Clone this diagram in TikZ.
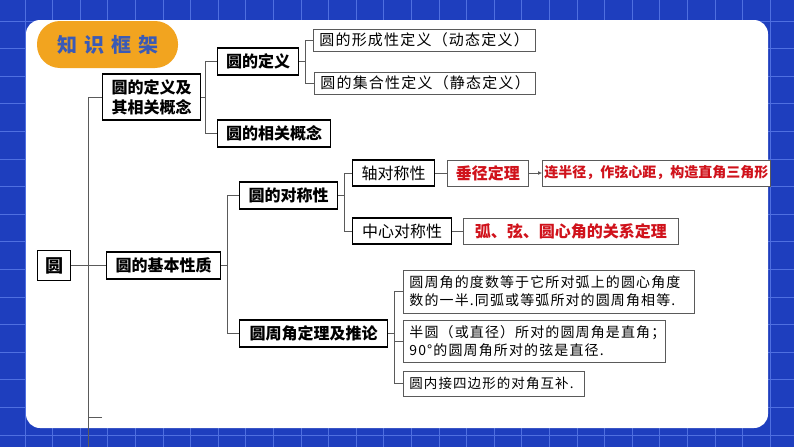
\documentclass[tikz,border=0pt]{standalone}
\usepackage{fontspec}
\setmainfont{Noto Sans CJK SC}
\newfontfamily\kaiwide[LetterSpace=8]{Noto Sans CJK SC}
\usetikzlibrary{arrows.meta,positioning}

\definecolor{bgblue}{HTML}{1E3EBE}
\definecolor{gridblue}{HTML}{4F6FE0}
\definecolor{pillorange}{HTML}{F2A41F}
\definecolor{titleblue}{HTML}{3A5AB6}
\definecolor{thmred}{HTML}{D0121B}
\definecolor{linegray}{HTML}{5A5A5A}

\tikzset{
  mainbox/.style={draw=black, line width=1.1pt, fill=white, anchor=west,
    inner sep=0pt, minimum height=27pt, align=center,
    font=\bfseries\fontsize{16}{20}\selectfont},
  leafbox/.style={draw=linegray, line width=0.8pt, fill=white, anchor=west,
    inner xsep=6pt, inner ysep=0pt, minimum height=22pt, align=left,
    font=\kaiwide\fontsize{15}{18}\selectfont},
  redbox/.style={leafbox, text=thmred, align=center, inner xsep=0pt,
    minimum height=26pt, font=\bfseries\fontsize{16}{18}\selectfont},
  conn/.style={draw=linegray, line width=0.8pt},
  gridline/.style={draw=gridblue, line width=0.7pt},
}

\begin{document}
\begin{tikzpicture}[x=1pt, y=-1pt]
\useasboundingbox (0,0) rectangle (794,447);

% draw background and grid
\fill[bgblue] (0,0) rectangle (794,447);
\foreach \i in {0,...,29}
  \draw[gridline] ({-2.6+27.6*\i},0) -- ++(0,447);
\foreach \j in {0,...,16}
  \draw[gridline] (0,{-6.6+27.6*\j}) -- ++(794,0);

% draw white panel
\fill[white, rounded corners=14pt] (26,20) rectangle (768,428);

% draw title
\node[fill=pillorange, rounded corners=23pt, minimum width=141pt,
  minimum height=47pt, inner sep=0pt, text=titleblue,
  font=\bfseries\fontsize{20}{22}\selectfont] (title) at (107.5,44.5)
  {知\hspace{7pt}识\hspace{7pt}框\hspace{7pt}架};

% draw nodes of the first level
\node[mainbox, minimum width=33pt, minimum height=30pt,
  font=\bfseries\fontsize{18}{20}\selectfont] (root) at (37,265.5) {圆};
\node[mainbox, minimum width=98pt, minimum height=46pt] (defc) at (102,97)
  {圆的定义及\\其相关概念};
\node[mainbox, minimum width=114pt] (basic) at (106,265.5) {圆的基本性质};

% draw nodes of the second level
\node[mainbox, minimum width=81pt] (def) at (217,61.5) {圆的定义};
\node[mainbox, minimum width=113pt] (concept) at (217,133.5) {圆的相关概念};
\node[mainbox, minimum width=98pt] (sym) at (239,195.5) {圆的对称性};
\node[mainbox, minimum width=148pt] (inscr) at (239,333.5) {圆周角定理及推论};

% draw nodes of the third level
\node[leafbox, text width=210pt] (dyn) at (313,40) {圆的形成性定义（动态定义）};
\node[leafbox, text width=209pt] (stat) at (314,83) {圆的集合性定义（静态定义）};
\node[mainbox, minimum width=82pt, minimum height=26pt,
  font=\fontsize{16}{20}\selectfont] (axis) at (352,173) {轴对称性};
\node[mainbox, minimum width=99pt, minimum height=26pt,
  font=\fontsize{16}{20}\selectfont] (central) at (352,231) {中心对称性};
\node[leafbox, text width=279pt, minimum height=43pt,
  font=\kaiwide\fontsize{14}{18}\selectfont] (rule1) at (403,291.5)
  {圆周角的度数等于它所对弧上的圆心角度\\数的一半.同弧或等弧所对的圆周角相等.};
\node[leafbox, text width=250pt, minimum height=42pt,
  font=\kaiwide\fontsize{14}{18}\selectfont] (rule2) at (403,341)
  {半圆（或直径）所对的圆周角是直角；\\90°的圆周角所对的弦是直径.};
\node[leafbox, text width=169pt, minimum height=25pt,
  font=\kaiwide\fontsize{13.5}{18}\selectfont] (rule3) at (403,383.5)
  {圆内接四边形的对角互补.};

% draw red theorem boxes
\node[redbox, minimum width=81pt] (perp) at (447,173) {垂径定理};
\node[redbox, minimum width=228pt, font=\bfseries\fontsize{14}{18}\selectfont]
  (method) at (542,173) {连半径，作弦心距，构造直角三角形};
\node[redbox, minimum width=215pt] (arcthm) at (463,231) {弧、弦、圆心角的关系定理};

% draw trunk
\coordinate (trunk) at (88,447);
\coordinate (tick) at (102,417);
\draw[conn] (defc.west) -| (trunk);
\draw[conn] (tick) -- (tick -| trunk);
\draw[conn] (root.east) -- (basic.west);

% draw branches
\draw[conn] (defc.east) -- ++(5,0);
\draw[conn] (def.west) -- ++(-12,0) |- (concept.west);
\draw[conn] (def.east) -- ++(7,0);
\draw[conn] (dyn.west) -- ++(-8,0) |- (stat.west);
\draw[conn] (basic.east) -- ++(7,0);
\draw[conn] (sym.west) -- ++(-12,0) |- (inscr.west);
\draw[conn] (sym.east) -- ++(7,0);
\draw[conn] (axis.west) -- ++(-8,0) |- (central.west);
\draw[conn] (inscr.east) -- ++(7,0);
\draw[conn] (rule1.west) -- ++(-9,0) |- (rule3.west);
\draw[conn] (rule2.west) -- ++(-9,0);

% draw links to theorems
\draw[conn] (axis) -- (perp);
\draw[conn, -{Latex[length=4pt, width=4pt]}] (perp) -- (method);
\draw[conn] (central) -- (arcthm);
\end{tikzpicture}
\end{document}
